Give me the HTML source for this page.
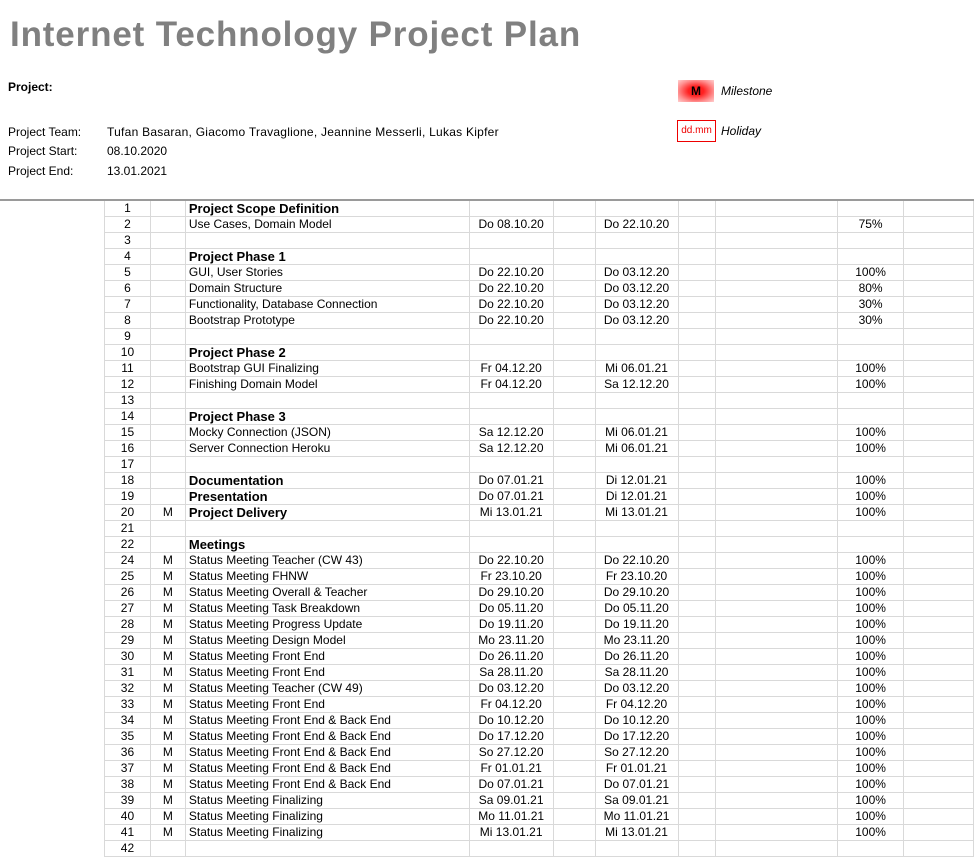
<!DOCTYPE html>
<html><head><meta charset="utf-8"><style>
body{margin:0;width:974px;height:854px;overflow:hidden;background:#fff;font-family:"Liberation Sans",sans-serif;color:#000;position:relative}
.a{position:absolute;font-size:12px;white-space:nowrap}
.t{position:absolute;left:10px;top:15px;font-size:35px;font-weight:bold;color:#808080;letter-spacing:0.85px}
table{position:absolute;left:104px;top:201px;border-collapse:collapse;table-layout:fixed;font-size:12px}
td{border:1px solid #d9d9d9;height:15px;padding:0;line-height:15px;white-space:nowrap;overflow:hidden}
td:nth-child(1),td:nth-child(2),td:nth-child(4),td:nth-child(6),td:nth-child(9){text-align:center}
td:nth-child(3){padding-left:3px}
tr:first-child td{border-top:none}
td:first-child{border-left:1px solid #d9d9d9}
.b{font-weight:bold;font-size:13px}
</style></head><body>
<div class="t">Internet Technology Project Plan</div>
<div class="a" style="left:8px;top:80px;font-weight:bold">Project:</div>
<div class="a" style="left:8px;top:125px">Project Team:</div>
<div class="a" style="left:107px;top:125px;letter-spacing:0.25px">Tufan Basaran, Giacomo Travaglione, Jeannine Messerli, Lukas Kipfer</div>
<div class="a" style="left:8px;top:144px">Project Start:</div>
<div class="a" style="left:107px;top:144px">08.10.2020</div>
<div class="a" style="left:8px;top:164px">Project End:</div>
<div class="a" style="left:107px;top:164px">13.01.2021</div>
<div style="position:absolute;left:678px;top:80px;width:36px;height:22px;background:radial-gradient(ellipse at center,#ff2020 30%,#ff9090 70%,#ffd0d0 100%);font-size:12px;font-weight:bold;text-align:center;line-height:22px">M</div>
<div class="a" style="left:721px;top:84px;font-style:italic">Milestone</div>
<div style="position:absolute;left:677px;top:120px;width:37px;height:20px;border:1px solid #e00;color:#e00;font-size:10px;text-align:center;line-height:20px">dd.mm</div>
<div class="a" style="left:721px;top:124px;font-style:italic">Holiday</div>
<div style="position:absolute;left:0;top:199px;width:974px;height:2px;background:#9a9a9a"></div>
<table>
<colgroup><col style="width:46px"><col style="width:35px"><col style="width:284px"><col style="width:84px"><col style="width:42px"><col style="width:83px"><col style="width:38px"><col style="width:122px"><col style="width:66px"><col style="width:70px"></colgroup>
<tr><td>1</td><td></td><td class="b">Project Scope Definition</td><td></td><td></td><td></td><td></td><td></td><td></td><td></td></tr>
<tr><td>2</td><td></td><td>Use Cases, Domain Model</td><td>Do 08.10.20</td><td></td><td>Do 22.10.20</td><td></td><td></td><td>75%</td><td></td></tr>
<tr><td>3</td><td></td><td></td><td></td><td></td><td></td><td></td><td></td><td></td><td></td></tr>
<tr><td>4</td><td></td><td class="b">Project Phase 1</td><td></td><td></td><td></td><td></td><td></td><td></td><td></td></tr>
<tr><td>5</td><td></td><td>GUI, User Stories</td><td>Do 22.10.20</td><td></td><td>Do 03.12.20</td><td></td><td></td><td>100%</td><td></td></tr>
<tr><td>6</td><td></td><td>Domain Structure</td><td>Do 22.10.20</td><td></td><td>Do 03.12.20</td><td></td><td></td><td>80%</td><td></td></tr>
<tr><td>7</td><td></td><td>Functionality, Database Connection</td><td>Do 22.10.20</td><td></td><td>Do 03.12.20</td><td></td><td></td><td>30%</td><td></td></tr>
<tr><td>8</td><td></td><td>Bootstrap Prototype</td><td>Do 22.10.20</td><td></td><td>Do 03.12.20</td><td></td><td></td><td>30%</td><td></td></tr>
<tr><td>9</td><td></td><td></td><td></td><td></td><td></td><td></td><td></td><td></td><td></td></tr>
<tr><td>10</td><td></td><td class="b">Project Phase 2</td><td></td><td></td><td></td><td></td><td></td><td></td><td></td></tr>
<tr><td>11</td><td></td><td>Bootstrap GUI Finalizing</td><td>Fr 04.12.20</td><td></td><td>Mi 06.01.21</td><td></td><td></td><td>100%</td><td></td></tr>
<tr><td>12</td><td></td><td>Finishing Domain Model</td><td>Fr 04.12.20</td><td></td><td>Sa 12.12.20</td><td></td><td></td><td>100%</td><td></td></tr>
<tr><td>13</td><td></td><td></td><td></td><td></td><td></td><td></td><td></td><td></td><td></td></tr>
<tr><td>14</td><td></td><td class="b">Project Phase 3</td><td></td><td></td><td></td><td></td><td></td><td></td><td></td></tr>
<tr><td>15</td><td></td><td>Mocky Connection (JSON)</td><td>Sa 12.12.20</td><td></td><td>Mi 06.01.21</td><td></td><td></td><td>100%</td><td></td></tr>
<tr><td>16</td><td></td><td>Server Connection Heroku</td><td>Sa 12.12.20</td><td></td><td>Mi 06.01.21</td><td></td><td></td><td>100%</td><td></td></tr>
<tr><td>17</td><td></td><td></td><td></td><td></td><td></td><td></td><td></td><td></td><td></td></tr>
<tr><td>18</td><td></td><td class="b">Documentation</td><td>Do 07.01.21</td><td></td><td>Di 12.01.21</td><td></td><td></td><td>100%</td><td></td></tr>
<tr><td>19</td><td></td><td class="b">Presentation</td><td>Do 07.01.21</td><td></td><td>Di 12.01.21</td><td></td><td></td><td>100%</td><td></td></tr>
<tr><td>20</td><td>M</td><td class="b">Project Delivery</td><td>Mi 13.01.21</td><td></td><td>Mi 13.01.21</td><td></td><td></td><td>100%</td><td></td></tr>
<tr><td>21</td><td></td><td></td><td></td><td></td><td></td><td></td><td></td><td></td><td></td></tr>
<tr><td>22</td><td></td><td class="b">Meetings</td><td></td><td></td><td></td><td></td><td></td><td></td><td></td></tr>
<tr><td>24</td><td>M</td><td>Status Meeting Teacher (CW 43)</td><td>Do 22.10.20</td><td></td><td>Do 22.10.20</td><td></td><td></td><td>100%</td><td></td></tr>
<tr><td>25</td><td>M</td><td>Status Meeting FHNW</td><td>Fr 23.10.20</td><td></td><td>Fr 23.10.20</td><td></td><td></td><td>100%</td><td></td></tr>
<tr><td>26</td><td>M</td><td>Status Meeting Overall &amp; Teacher</td><td>Do 29.10.20</td><td></td><td>Do 29.10.20</td><td></td><td></td><td>100%</td><td></td></tr>
<tr><td>27</td><td>M</td><td>Status Meeting Task Breakdown</td><td>Do 05.11.20</td><td></td><td>Do 05.11.20</td><td></td><td></td><td>100%</td><td></td></tr>
<tr><td>28</td><td>M</td><td>Status Meeting Progress Update</td><td>Do 19.11.20</td><td></td><td>Do 19.11.20</td><td></td><td></td><td>100%</td><td></td></tr>
<tr><td>29</td><td>M</td><td>Status Meeting Design Model</td><td>Mo 23.11.20</td><td></td><td>Mo 23.11.20</td><td></td><td></td><td>100%</td><td></td></tr>
<tr><td>30</td><td>M</td><td>Status Meeting Front End</td><td>Do 26.11.20</td><td></td><td>Do 26.11.20</td><td></td><td></td><td>100%</td><td></td></tr>
<tr><td>31</td><td>M</td><td>Status Meeting Front End</td><td>Sa 28.11.20</td><td></td><td>Sa 28.11.20</td><td></td><td></td><td>100%</td><td></td></tr>
<tr><td>32</td><td>M</td><td>Status Meeting Teacher (CW 49)</td><td>Do 03.12.20</td><td></td><td>Do 03.12.20</td><td></td><td></td><td>100%</td><td></td></tr>
<tr><td>33</td><td>M</td><td>Status Meeting Front End</td><td>Fr 04.12.20</td><td></td><td>Fr 04.12.20</td><td></td><td></td><td>100%</td><td></td></tr>
<tr><td>34</td><td>M</td><td>Status Meeting Front End &amp; Back End</td><td>Do 10.12.20</td><td></td><td>Do 10.12.20</td><td></td><td></td><td>100%</td><td></td></tr>
<tr><td>35</td><td>M</td><td>Status Meeting Front End &amp; Back End</td><td>Do 17.12.20</td><td></td><td>Do 17.12.20</td><td></td><td></td><td>100%</td><td></td></tr>
<tr><td>36</td><td>M</td><td>Status Meeting Front End &amp; Back End</td><td>So 27.12.20</td><td></td><td>So 27.12.20</td><td></td><td></td><td>100%</td><td></td></tr>
<tr><td>37</td><td>M</td><td>Status Meeting Front End &amp; Back End</td><td>Fr 01.01.21</td><td></td><td>Fr 01.01.21</td><td></td><td></td><td>100%</td><td></td></tr>
<tr><td>38</td><td>M</td><td>Status Meeting Front End &amp; Back End</td><td>Do 07.01.21</td><td></td><td>Do 07.01.21</td><td></td><td></td><td>100%</td><td></td></tr>
<tr><td>39</td><td>M</td><td>Status Meeting Finalizing</td><td>Sa 09.01.21</td><td></td><td>Sa 09.01.21</td><td></td><td></td><td>100%</td><td></td></tr>
<tr><td>40</td><td>M</td><td>Status Meeting Finalizing</td><td>Mo 11.01.21</td><td></td><td>Mo 11.01.21</td><td></td><td></td><td>100%</td><td></td></tr>
<tr><td>41</td><td>M</td><td>Status Meeting Finalizing</td><td>Mi 13.01.21</td><td></td><td>Mi 13.01.21</td><td></td><td></td><td>100%</td><td></td></tr>
<tr><td>42</td><td></td><td></td><td></td><td></td><td></td><td></td><td></td><td></td><td></td></tr>
</table>
</body></html>
